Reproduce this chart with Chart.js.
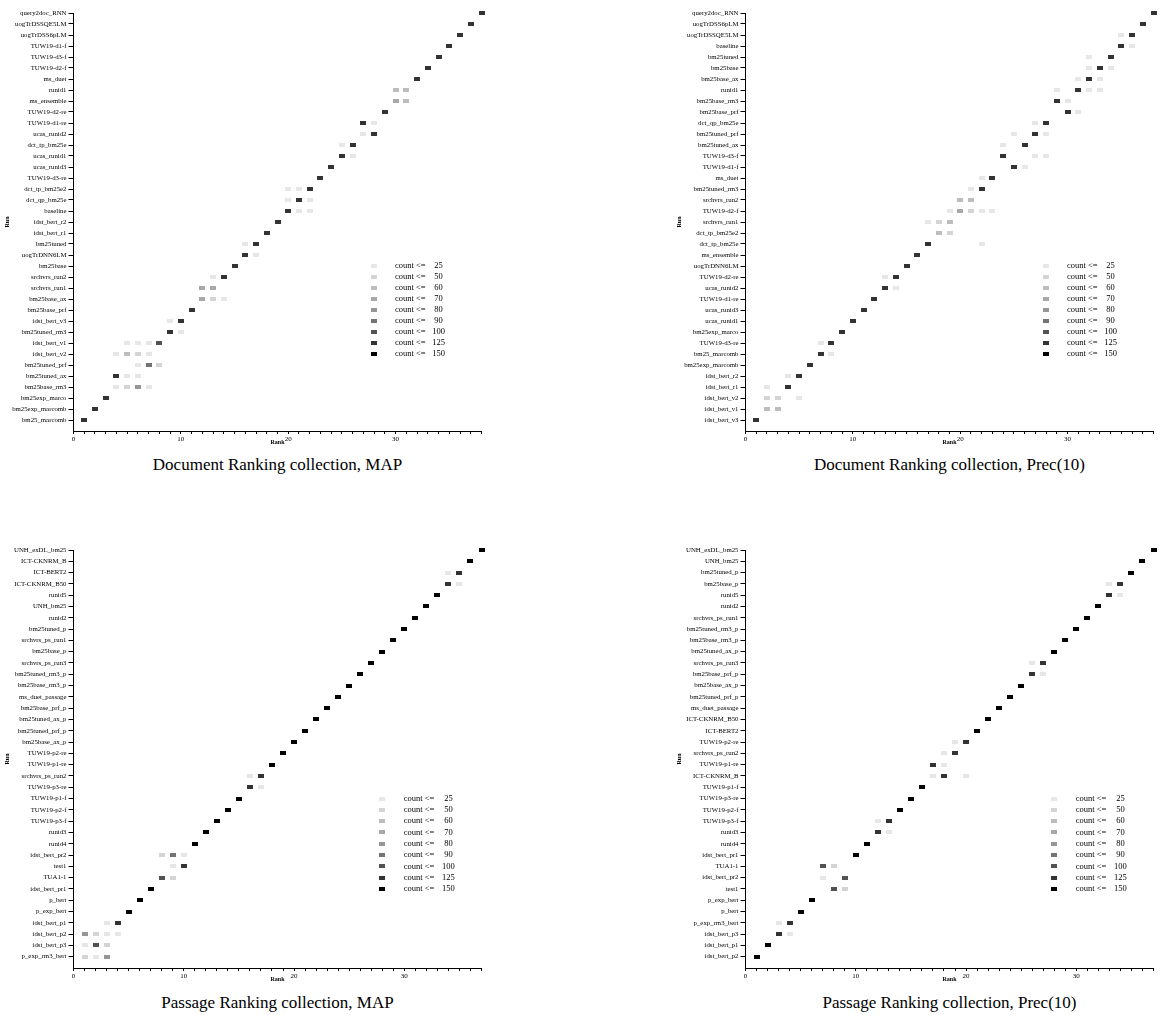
<!DOCTYPE html>
<html>
<head>
<meta charset="utf-8">
<script src="https://cdn.jsdelivr.net/npm/chart.js@4.4.1/dist/chart.umd.min.js"></script>
<style>
  body { margin: 0; background: #fff; }
  .panel { position: absolute; width: 581px; height: 507px; }
  .panel canvas { position: absolute; left: 0; top: 0; }
  .caption { position: absolute; font-family: "Liberation Serif", serif; font-size: 17px; color: #000; white-space: nowrap; transform: translate(-50%, -50%); }
</style>
</head>
<body>
<div class="panel" style="left:0;top:0"><canvas id="docMap" width="490" height="450"></canvas><div class="caption" style="left:277.5px;top:465px">Document Ranking collection, MAP</div></div>
<div class="panel" style="left:672px;top:0"><canvas id="docP10" width="490" height="450"></canvas><div class="caption" style="left:277.5px;top:465px">Document Ranking collection, Prec(10)</div></div>
<div class="panel" style="left:0;top:537px"><canvas id="pasMap" width="490" height="450"></canvas><div class="caption" style="left:277.5px;top:466px">Passage Ranking collection, MAP</div></div>
<div class="panel" style="left:672px;top:537px"><canvas id="pasP10" width="490" height="450"></canvas><div class="caption" style="left:277.5px;top:466px">Passage Ranking collection, Prec(10)</div></div>
<script>
// count bins of the legend and their grey shades
var countBins = [25, 50, 60, 70, 80, 90, 100, 125, 150];
var binColors = ['#e6e6e6', '#d4d4d4', '#bdbdbd', '#a8a8a8', '#969696', '#737373', '#525252', '#333333', '#000000'];

// runs listed top to bottom, cells are [rank, count] per run
var docMapRuns = ['query2doc_RNN', 'uogTrDSSQE5LM', 'uogTrDSS6pLM', 'TUW19-d1-f', 'TUW19-d3-f', 'TUW19-d2-f', 'ms_duet', 'runid1', 'ms_ensemble', 'TUW19-d2-re', 'TUW19-d1-re', 'ucas_runid2', 'dct_tp_bm25e', 'ucas_runid1', 'ucas_runid3', 'TUW19-d3-re', 'dct_tp_bm25e2', 'dct_qp_bm25e', 'baseline', 'idst_bert_r2', 'idst_bert_r1', 'bm25tuned', 'uogTrDNN6LM', 'bm25base', 'srchvrs_run2', 'srchvrs_run1', 'bm25base_ax', 'bm25base_prf', 'idst_bert_v3', 'bm25tuned_rm3', 'idst_bert_v1', 'idst_bert_v2', 'bm25tuned_prf', 'bm25tuned_ax', 'bm25base_rm3', 'bm25exp_marco', 'bm25exp_marcomb', 'bm25_marcomb'];
var docMapCells = [
    [[38, 115]], [[37, 115]], [[36, 115]], [[35, 115]], [[34, 115]], [[33, 115]], [[32, 115]],
    [[30, 55], [31, 55]], [[30, 65], [31, 55]], [[29, 115]],
    [[27, 115], [28, 15]], [[27, 15], [28, 115]], [[25, 15], [26, 115]], [[25, 115], [26, 15]],
    [[24, 115]], [[23, 115]],
    [[20, 15], [21, 15], [22, 115]], [[20, 15], [21, 115], [22, 15]], [[20, 115], [21, 15], [22, 15]],
    [[19, 115]], [[18, 115]], [[16, 15], [17, 115]], [[16, 115], [17, 15]], [[15, 115]],
    [[13, 15], [14, 115]], [[12, 65], [13, 65]], [[12, 65], [13, 40], [14, 15]], [[11, 115]],
    [[9, 15], [10, 115]], [[9, 115], [10, 15]],
    [[5, 15], [6, 15], [7, 15], [8, 95]], [[4, 15], [5, 55], [6, 40], [7, 15]], [[6, 15], [7, 85], [8, 40]],
    [[4, 115], [5, 15], [6, 15]], [[4, 15], [5, 40], [6, 75], [7, 15]],
    [[3, 115]], [[2, 115]], [[1, 115]]
];

var docP10Runs = ['query2doc_RNN', 'uogTrDSS6pLM', 'uogTrDSSQE5LM', 'baseline', 'bm25tuned', 'bm25base', 'bm25base_ax', 'runid1', 'bm25base_rm3', 'bm25base_prf', 'dct_qp_bm25e', 'bm25tuned_prf', 'bm25tuned_ax', 'TUW19-d3-f', 'TUW19-d1-f', 'ms_duet', 'bm25tuned_rm3', 'srchvrs_run2', 'TUW19-d2-f', 'srchvrs_run1', 'dct_tp_bm25e2', 'dct_tp_bm25e', 'ms_ensemble', 'uogTrDNN6LM', 'TUW19-d2-re', 'ucas_runid2', 'TUW19-d1-re', 'ucas_runid3', 'ucas_runid1', 'bm25exp_marco', 'TUW19-d3-re', 'bm25_marcomb', 'bm25exp_marcomb', 'idst_bert_r2', 'idst_bert_r1', 'idst_bert_v2', 'idst_bert_v1', 'idst_bert_v3'];
var docP10Cells = [
    [[38, 115]], [[37, 115]], [[35, 15], [36, 115]], [[35, 115], [36, 15]],
    [[32, 15], [34, 115]], [[32, 15], [33, 115], [34, 15]], [[31, 15], [32, 115], [33, 15]],
    [[29, 15], [31, 105], [32, 15], [33, 15]], [[29, 115], [30, 15]], [[30, 115], [31, 15]],
    [[27, 15], [28, 115]], [[25, 15], [27, 115], [28, 15]], [[24, 15], [26, 115]],
    [[24, 115], [27, 15], [28, 15]], [[25, 115], [26, 15]], [[22, 15], [23, 115]], [[21, 15], [22, 115]],
    [[20, 55], [21, 55]], [[19, 15], [20, 65], [21, 40], [22, 15], [23, 15]],
    [[17, 15], [18, 40], [19, 55]], [[18, 55], [19, 40]], [[17, 115], [22, 15]],
    [[16, 115]], [[15, 115]], [[13, 15], [14, 115]], [[13, 115], [14, 15]],
    [[12, 115]], [[11, 115]], [[10, 115]], [[9, 115]], [[7, 15], [8, 115]], [[7, 115], [8, 15]],
    [[6, 115]], [[4, 15], [5, 115]], [[2, 15], [4, 115]], [[2, 40], [3, 40], [5, 15]], [[2, 55], [3, 55]],
    [[1, 115]]
];

var pasMapRuns = ['UNH_exDL_bm25', 'ICT-CKNRM_B', 'ICT-BERT2', 'ICT-CKNRM_B50', 'runid5', 'UNH_bm25', 'runid2', 'bm25tuned_p', 'srchvrs_ps_run1', 'bm25base_p', 'srchvrs_ps_run3', 'bm25tuned_rm3_p', 'bm25base_rm3_p', 'ms_duet_passage', 'bm25base_prf_p', 'bm25tuned_ax_p', 'bm25tuned_prf_p', 'bm25base_ax_p', 'TUW19-p2-re', 'TUW19-p1-re', 'srchvrs_ps_run2', 'TUW19-p3-re', 'TUW19-p1-f', 'TUW19-p2-f', 'TUW19-p3-f', 'runid3', 'runid4', 'idst_bert_pr2', 'test1', 'TUA1-1', 'idst_bert_pr1', 'p_bert', 'p_exp_bert', 'idst_bert_p1', 'idst_bert_p2', 'idst_bert_p3', 'p_exp_rm3_bert'];
var pasMapCells = [
    [[37, 140]], [[36, 140]], [[34, 15], [35, 125]], [[34, 125], [35, 15]],
    [[33, 140]], [[32, 140]], [[31, 140]], [[30, 140]], [[29, 140]], [[28, 140]], [[27, 140]],
    [[26, 140]], [[25, 140]], [[24, 140]], [[23, 140]], [[22, 140]], [[21, 140]], [[20, 140]],
    [[19, 140]], [[18, 140]], [[16, 15], [17, 125]], [[16, 125], [17, 15]],
    [[15, 140]], [[14, 140]], [[13, 140]], [[12, 140]], [[11, 140]],
    [[8, 40], [9, 85], [10, 15]], [[9, 15], [10, 115]], [[8, 95], [9, 40]],
    [[7, 140]], [[6, 140]], [[5, 140]], [[3, 15], [4, 115]],
    [[1, 75], [2, 40], [3, 15], [4, 15]], [[1, 15], [2, 95], [3, 40]], [[1, 40], [2, 15], [3, 75]]
];

var pasP10Runs = ['UNH_exDL_bm25', 'UNH_bm25', 'bm25tuned_p', 'bm25base_p', 'runid5', 'runid2', 'srchvrs_ps_run1', 'bm25tuned_rm3_p', 'bm25base_rm3_p', 'bm25tuned_ax_p', 'srchvrs_ps_run3', 'bm25base_prf_p', 'bm25base_ax_p', 'bm25tuned_prf_p', 'ms_duet_passage', 'ICT-CKNRM_B50', 'ICT-BERT2', 'TUW19-p2-re', 'srchvrs_ps_run2', 'TUW19-p1-re', 'ICT-CKNRM_B', 'TUW19-p1-f', 'TUW19-p3-re', 'TUW19-p2-f', 'TUW19-p3-f', 'runid3', 'runid4', 'idst_bert_pr1', 'TUA1-1', 'idst_bert_pr2', 'test1', 'p_exp_bert', 'p_bert', 'p_exp_rm3_bert', 'idst_bert_p3', 'idst_bert_p1', 'idst_bert_p2'];
var pasP10Cells = [
    [[37, 140]], [[36, 140]], [[35, 140]], [[33, 15], [34, 125]], [[33, 125], [34, 15]],
    [[32, 140]], [[31, 140]], [[30, 140]], [[29, 140]], [[28, 140]],
    [[26, 15], [27, 115]], [[26, 115], [27, 15]], [[25, 140]], [[24, 140]], [[23, 140]], [[22, 140]], [[21, 140]],
    [[19, 15], [20, 115]], [[18, 15], [19, 115]], [[17, 115], [18, 15]], [[17, 15], [18, 115], [20, 15]],
    [[16, 140]], [[15, 140]], [[14, 140]], [[12, 15], [13, 115]], [[12, 115], [13, 15]],
    [[11, 140]], [[10, 140]], [[7, 95], [8, 40]], [[7, 15], [9, 95]], [[8, 95], [9, 40]],
    [[6, 140]], [[5, 140]], [[3, 15], [4, 115]], [[3, 115], [4, 15]], [[2, 140]], [[1, 140]]
];

var serif = '"Liberation Serif", "Times New Roman", serif';

// small filled rectangles used as point markers
var markers = binColors.map(function (c) {
    var cv = document.createElement('canvas');
    cv.width = 6;
    cv.height = 4;
    var g = cv.getContext('2d');
    g.fillStyle = c;
    g.fillRect(0, 0, 6, 4);
    return cv;
});

function binOf(count) {
    for (var k = 0; k < countBins.length; k++) {
        if (count <= countBins[k]) return k;
    }
    return countBins.length - 1;
}

// legend sits in the plot like a small table: marker column at rank 28,
// text from rank 30, number centred on rank 34, rows from y = 15 downwards
var countLegend = {
    id: 'countLegend',
    afterDraw: function (chart) {
        var ctx = chart.ctx, xs = chart.scales.x, ys = chart.scales.y;
        ctx.save();
        ctx.font = '8.5px ' + serif;
        ctx.fillStyle = '#000';
        ctx.textBaseline = 'middle';
        countBins.forEach(function (bin, k) {
            var yy = ys.getPixelForValue(15 - k);
            ctx.drawImage(markers[k], xs.getPixelForValue(28) - 3, yy - 2);
            ctx.textAlign = 'left';
            ctx.fillText('count <=', xs.getPixelForValue(29.95), yy);
            ctx.textAlign = 'center';
            ctx.fillText(String(bin), xs.getPixelForValue(34), yy);
        });
        ctx.restore();
    }
};

function makePanel(id, runs, cells) {
    var n = runs.length;
    var datasets = countBins.map(function (bin, k) {
        var pts = [];
        cells.forEach(function (row, i) {
            row.forEach(function (c) {
                if (binOf(c[1]) === k) pts.push({ x: c[0], y: n - i, count: c[1] });
            });
        });
        return {
            label: 'count <= ' + bin,
            data: pts,
            pointStyle: markers[k],
            pointRadius: 3,
            clip: false
        };
    });

    new Chart(document.getElementById(id), {
        type: 'scatter',
        data: { datasets: datasets },
        plugins: [countLegend],
        options: {
            responsive: false,
            animation: false,
            events: [],
            layout: { padding: { left: 0, top: 13, right: 8.5, bottom: 4 } },
            plugins: { legend: { display: false }, tooltip: { enabled: false } },
            scales: {
                x: {
                    type: 'linear',
                    min: 0,
                    max: n,
                    afterBuildTicks: function (s) {
                        var t = [];
                        for (var v = 0; v <= n; v++) t.push({ value: v });
                        s.ticks = t;
                    },
                    afterFit: function (s) { s.height = 15; },
                    border: { display: true, color: '#000', width: 1 },
                    grid: { drawOnChartArea: false, drawTicks: true, tickLength: 3, tickColor: '#000' },
                    ticks: {
                        autoSkip: false,
                        maxRotation: 0,
                        padding: 1,
                        color: '#000',
                        font: { family: serif, size: 7 },
                        callback: function (v) { return v % 10 === 0 ? String(v) : ''; }
                    },
                    title: { display: true, text: 'Rank', color: '#000', padding: 0, font: { family: serif, size: 6, weight: 'bold' } }
                },
                y: {
                    type: 'linear',
                    min: 0,
                    max: n,
                    afterBuildTicks: function (s) {
                        var t = [];
                        for (var v = 1; v <= n; v++) t.push({ value: v });
                        s.ticks = t;
                    },
                    afterFit: function (s) { s.width = 73.5; },
                    border: { display: true, color: '#000', width: 1 },
                    grid: { drawOnChartArea: false, drawTicks: true, tickLength: 5, tickColor: '#000' },
                    ticks: {
                        autoSkip: false,
                        padding: 2,
                        color: '#000',
                        font: { family: serif, size: 6.8 },
                        callback: function (v) { return runs[n - v]; }
                    },
                    title: { display: true, text: 'Run', color: '#000', padding: 4, font: { family: serif, size: 6, weight: 'bold' } }
                }
            }
        }
    });
}

makePanel('docMap', docMapRuns, docMapCells);
makePanel('docP10', docP10Runs, docP10Cells);
makePanel('pasMap', pasMapRuns, pasMapCells);
makePanel('pasP10', pasP10Runs, pasP10Cells);
</script>
</body>
</html>
